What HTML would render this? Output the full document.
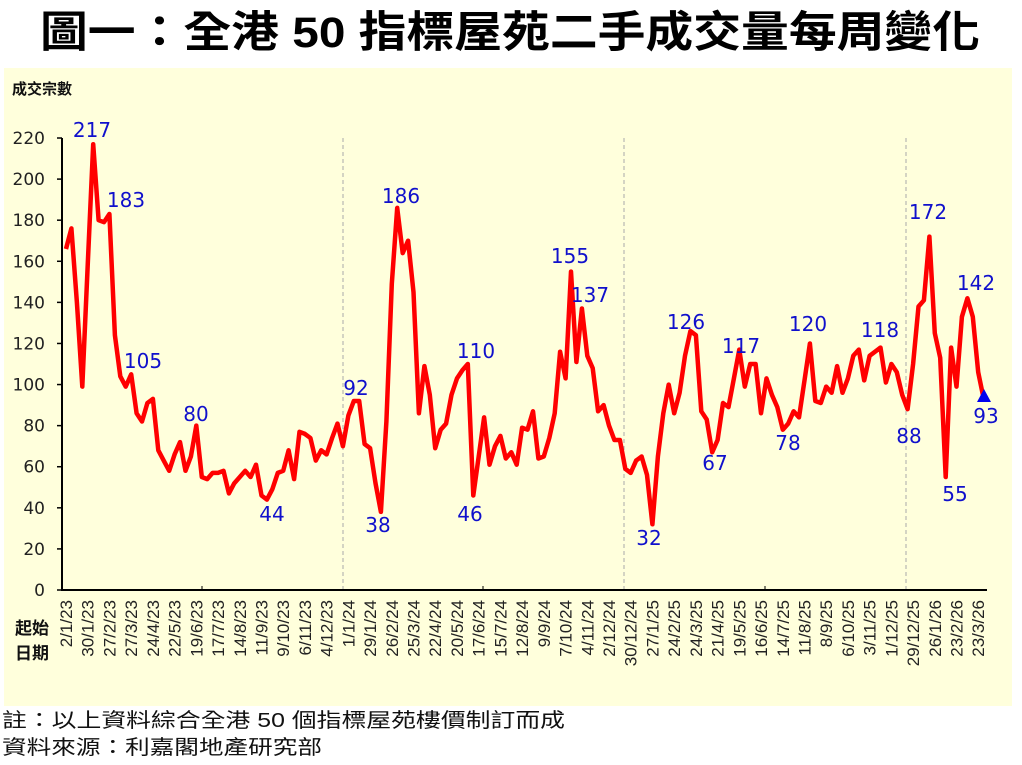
<!DOCTYPE html>
<html><head><meta charset="utf-8">
<style>
html,body{margin:0;padding:0;background:#fff;}
svg{display:block;}
</style></head>
<body>
<svg id="s" width="1022" height="765" xmlns="http://www.w3.org/2000/svg" font-family="Liberation Sans, 'Noto Sans CJK TC', sans-serif">
<rect x="0" y="0" width="1022" height="765" fill="#fff"/>
<text x="510" y="47" text-anchor="middle" font-size="43" font-weight="bold" fill="#000" textLength="940" lengthAdjust="spacingAndGlyphs" font-family="Liberation Sans, 'Noto Sans CJK TC', sans-serif">圖一：全港 50 指標屋苑二手成交量每周變化</text>
<rect x="4" y="68" width="1008" height="638" fill="#FFFFDC"/>
<text x="12" y="94" font-size="15" font-weight="bold" fill="#111" font-family="'Noto Sans CJK TC', sans-serif">成交宗數</text>
<g id="grid"></g>
<line x1="62" y1="138" x2="62" y2="591" stroke="#000" stroke-width="2"/>
<line x1="61" y1="590" x2="987" y2="590" stroke="#000" stroke-width="2"/>
<g id="yt" font-size="17" fill="#222" text-anchor="end" font-family="DejaVu Sans, sans-serif"></g>
<g id="xt" font-size="17" fill="#222"></g>
<path id="ln" fill="none" stroke="#FF0000" stroke-width="4.5" stroke-linejoin="round"/>
<polygon points="984,389 977,402 991,402" fill="#0000EE"/>
<g id="lb" font-size="20" fill="#1010CC" text-anchor="middle" font-family="DejaVu Sans, sans-serif"></g>
<text x="15" y="634" font-size="17" font-weight="bold" fill="#111" font-family="'Noto Sans CJK TC', sans-serif">起始</text>
<text x="15" y="659" font-size="17" font-weight="bold" fill="#111" font-family="'Noto Sans CJK TC', sans-serif">日期</text>
<text x="2" y="727" font-size="20" fill="#111" textLength="563" lengthAdjust="spacingAndGlyphs" font-family="Liberation Sans, 'Noto Sans CJK TC', sans-serif">註：以上資料綜合全港 50 個指標屋苑樓價制訂而成</text>
<text x="2" y="754" font-size="20" fill="#111" textLength="320" lengthAdjust="spacingAndGlyphs" font-family="'Noto Sans CJK TC', sans-serif">資料來源：利嘉閣地產研究部</text>
</svg>
<script>
var NS="http://www.w3.org/2000/svg";
function el(t,a,p,txt){var e=document.createElementNS(NS,t);for(var k in a)e.setAttribute(k,a[k]);if(txt!==undefined)e.textContent=txt;p.appendChild(e);return e;}
var v=[166,176,140,99,158,217,180,179,183,124,104,99,105,86,82,91,93,68,63,58,66,72,58,65,80,55,54,57,57,58,47,52,55,58,55,61,46,44,49,57,58,68,54,77,76,74,63,68,66,74,81,70,
85,92,92,71,69,52,38,82,149,186,164,170,145,86,109,95,69,78,81,95,103,107,110,46,65,84,61,70,75,64,67,61,79,78,87,
64,65,74,86,116,103,155,111,137,114,108,87,90,80,73,73,59,57,63,65,56,32,65,86,100,86,96,114,126,124,87,83,67,73,91,89,103,117,99,110,110,86,
103,95,89,78,81,87,84,102,120,92,91,99,96,109,96,103,114,117,102,114,116,118,101,110,106,95,88,110,138,141,172,125,113,55,118,99,133,142,133,106,93];
function X(i){return 66+5.43*i;}
function Y(val){return 590-val*2.0545;}
var d="";for(var i=0;i<v.length;i++){d+=(i?"L":"M")+X(i).toFixed(1)+","+Y(v[i]).toFixed(1);}
document.getElementById("ln").setAttribute("d",d);
var g=document.getElementById("grid");
[343,624,906].forEach(function(x){el("line",{x1:x,y1:138,x2:x,y2:590,stroke:"#aaa","stroke-width":1,"stroke-dasharray":"4,3"},g);});
[202,483,765].forEach(function(x){el("line",{x1:x,y1:586,x2:x,y2:590,stroke:"#000","stroke-width":1},g);});
var yt=document.getElementById("yt");
for(var k=0;k<=220;k+=20){var y=Y(k);el("line",{x1:57,y1:y,x2:62,y2:y,stroke:"#000","stroke-width":1.5},g);el("text",{x:45,y:y+6},yt,String(k));}
var xt=document.getElementById("xt");
var t0=Date.UTC(2023,0,2);
for(var j=0;j<=42;j++){var dt=new Date(t0+j*28*86400000);var s=dt.getUTCDate()+"/"+(dt.getUTCMonth()+1)+"/"+String(dt.getUTCFullYear()).slice(2);var x=X(j*4)+6;
el("text",{x:0,y:0,transform:"translate("+x.toFixed(1)+",600) rotate(-90)","text-anchor":"end"},xt,s);}
var L=[[217,92,130],[183,126,200],[105,143,361],[80,196,414],[44,272,514],[92,356,388],[38,378,525],[186,401,196],[110,476,351],[46,470,514],[155,570,256],[137,590,295],[32,649,538],[126,686,322],[67,715,463],[117,741,346],[78,788,443],[120,808,324],[118,880,330],[88,909,436],[172,928,212],[55,955,494],[142,976,283],[93,986,416]];
var lb=document.getElementById("lb");
L.forEach(function(a){el("text",{x:a[1],y:a[2]+7},lb,String(a[0]));});
</script>
</body></html>
